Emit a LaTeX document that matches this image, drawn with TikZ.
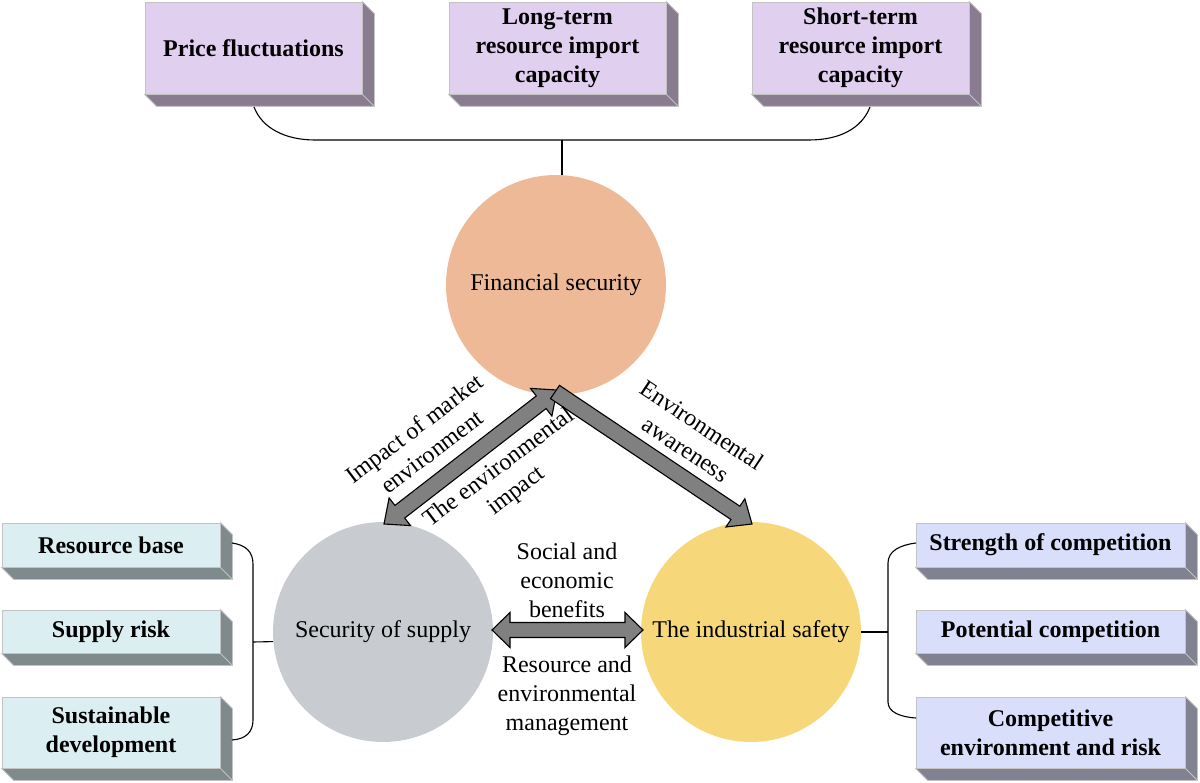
\documentclass[tikz,border=0pt]{standalone}
\usepackage{fontspec}
\setmainfont{Liberation Serif}
\usetikzlibrary{calc}
\definecolor{topfront}{RGB}{225,207,240}
\definecolor{topside}{RGB}{137,124,145}
\definecolor{leftfront}{RGB}{219,238,241}
\definecolor{leftside}{RGB}{126,138,139}
\definecolor{rightfront}{RGB}{217,223,250}
\definecolor{rightside}{RGB}{128,130,145}
\definecolor{fincol}{RGB}{238,185,150}
\definecolor{supcol}{RGB}{200,203,207}
\definecolor{indcol}{RGB}{246,216,122}
\definecolor{edgecol}{RGB}{195,195,195}
\definecolor{arrcol}{RGB}{128,128,128}
\newcommand{\exbox}[8]{%
  \node[bx, fill=#6, minimum width=#4, minimum height=#5] (#1) at (#2,#3) {#8};
  \filldraw[draw=edgecol, fill=#7, line width=0.8pt] (#1.north east) -- ($(#1.north east)+(12,12)$) -- ($(#1.south east)+(12,12)$) -- ($(#1.south west)+(12,12)$) -- (#1.south west) -- (#1.south east) -- cycle;
  \draw[draw=edgecol, line width=0.8pt] (#1.south east) -- ($(#1.south east)+(12,12)$);
}
\newcommand{\sarrow}[3]{% tail, tip, helper name
  \coordinate (#3) at ($(#2)!20pt!(#1)$);
  \filldraw[arr] ($(#1)!8pt!90:(#2)$) -- ($(#3)!8pt!90:(#2)$) -- ($(#3)!17pt!90:(#2)$) -- (#2)
     -- ($(#3)!17pt!-90:(#2)$) -- ($(#3)!8pt!-90:(#2)$) -- ($(#1)!8pt!-90:(#2)$) -- cycle;
}
\newcommand{\darrow}[6]{% tipA, tipB, helperA, helperB, head length, shaft half width
  \coordinate (#3) at ($(#1)!#5!(#2)$);
  \coordinate (#4) at ($(#2)!#5!(#1)$);
  \filldraw[arr] (#1) -- ($(#3)!17.5pt!90:(#2)$) -- ($(#3)!#6!90:(#2)$) -- ($(#4)!#6!90:(#2)$) -- ($(#4)!17.5pt!90:(#2)$) -- (#2)
     -- ($(#4)!17.5pt!-90:(#2)$) -- ($(#4)!#6!-90:(#2)$) -- ($(#3)!#6!-90:(#2)$) -- ($(#3)!17.5pt!-90:(#2)$) -- cycle;
}
\tikzset{
  bx/.style={draw=edgecol, line width=0.8pt, inner sep=0pt, align=center, font=\fontsize{24}{29}\selectfont\bfseries},
  circ/.style={circle, minimum size=220pt, inner sep=0pt, font=\fontsize{24}{29}\selectfont},
  lbl/.style={align=center, inner sep=0pt, font=\fontsize{24}{29}\selectfont},
  arr/.style={fill=arrcol, draw=black, line width=1.1pt, line join=miter},
  con/.style={draw=black, line width=1.1pt}
}
\begin{document}
\begin{tikzpicture}[x=1pt, y=-1pt]
\useasboundingbox (0,0) rectangle (1200,783);
% circles
\node[circ, fill=fincol] (fin) at (556,285) {Financial security};
\node[circ, fill=supcol] (sup) at (383,632) {Security of supply};
\node[circ, fill=indcol] (ind) at (751,632) {The industrial safety};
% top boxes
\exbox{p1}{253.5}{48}{217pt}{92pt}{topfront}{topside}{Price fluctuations}
\exbox{p2}{557.5}{48}{217pt}{92pt}{topfront}{topside}{Long-term\\resource import\\capacity}
\exbox{p3}{860.5}{48}{217pt}{92pt}{topfront}{topside}{Short-term\\resource import\\capacity}
% left boxes
\exbox{l1}{111}{545}{218pt}{44pt}{leftfront}{leftside}{Resource base}
\exbox{l2}{111}{631.5}{218pt}{43pt}{leftfront}{leftside}{Supply risk}
\exbox{l3}{111}{732.5}{218pt}{71pt}{leftfront}{leftside}{Sustainable\\development}
% right boxes
\exbox{r1}{1050.5}{545}{269pt}{44pt}{rightfront}{rightside}{Strength of competition}
\exbox{r2}{1050.5}{631.5}{269pt}{43pt}{rightfront}{rightside}{Potential competition}
\exbox{r3}{1050.5}{732.5}{269pt}{71pt}{rightfront}{rightside}{Competitive\\environment and risk}
% top bracket
\coordinate (tb) at (562,140);
\draw[con] (254,107) .. controls (262,128) and (285,140) .. (315,140) -- (809,140)
   .. controls (840,140) and (862,128) .. (870,107);
\draw[con] (tb) -- (tb |- fin.north);
% left bracket
\coordinate (lb) at (253,642);
\draw[con] (232,543) .. controls (246,545) and (253,552) .. (253,564) -- (253,720)
   .. controls (253,732) and (246,739) .. (232,740);
\draw[con] (lb) -- (sup.185);
% right bracket
\coordinate (rb) at (888,632);
\draw[con] (916,543) .. controls (900,545) and (888,551) .. (888,563) -- (888,702)
   .. controls (888,712) and (900,717) .. (916,718);
\draw[con] (ind.east) -- (rb);
% arrows
\coordinate (a1) at (384,524);
\coordinate (a2) at (557,390);
\coordinate (b1) at (555,392);
\coordinate (b2) at (752,524);
\coordinate (c1) at (492,630);
\coordinate (c2) at (643,630);
\darrow{a1}{a2}{ah1}{ah2}{20pt}{8pt}
\sarrow{b1}{b2}{bh}
\darrow{c1}{c2}{ch1}{ch2}{18pt}{7.5pt}
% labels
\node[lbl, rotate=37] (t1) at (423,440) {Impact of market\\environment};
\node[lbl, rotate=37] (t2) at (508,480) {The environmental\\impact};
\node[lbl, rotate=-33.6] (t3) at (694,437) {Environmental\\awareness};
\node[lbl] (t4) at (567,580) {Social and\\economic\\benefits};
\node[lbl] (t5) at (567,696) {Resource and\\environmental\\management};
\end{tikzpicture}
\end{document}
